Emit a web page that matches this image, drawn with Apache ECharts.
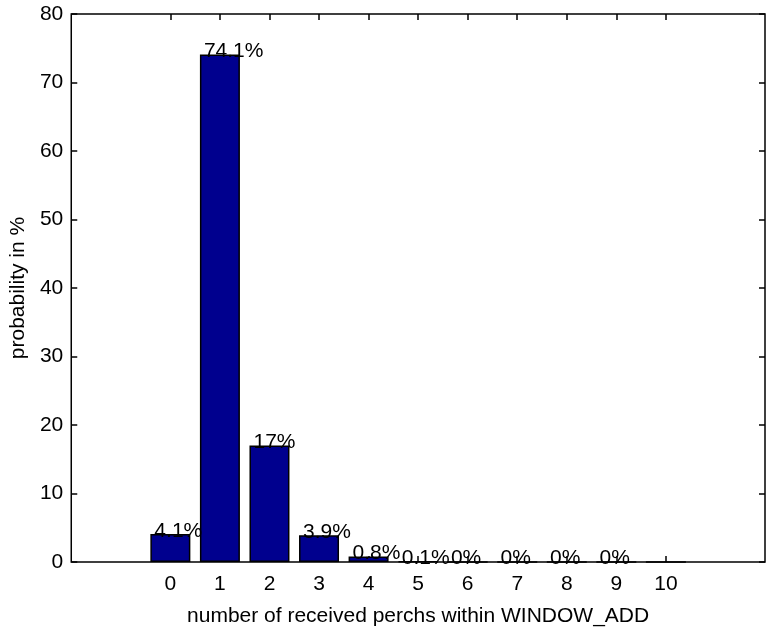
<!DOCTYPE html>
<html>
<head>
<meta charset="utf-8">
<script src="https://cdn.jsdelivr.net/npm/echarts@6/dist/echarts.min.js"></script>
<style>html,body{margin:0;padding:0;background:#fff}#c{width:766px;height:632px}</style>
</head>
<body>
<div id="c"></div>
<script>
const categories = [0, 1, 2, 3, 4, 5, 6, 7, 8, 9, 10];
const values = [4.1, 74.1, 17, 3.9, 0.8, 0.1, 0, 0, 0, 0, 0];
const valueLabels = ['4.1%', '74.1%', '17%', '3.9%', '0.8%', '0.1%', '0%', '0%', '0%', '0%', ''];
const yTicks = [0, 10, 20, 30, 40, 50, 60, 70, 80];

const FONT = 'Liberation Sans, Arial, sans-serif';
const chart = echarts.init(document.getElementById('c'), null, {renderer: 'canvas'});

const xBase = {
  type: 'value', min: -2, max: 12, interval: 1,
  splitLine: {show: false},
  axisLine: {show: false, onZero: false}
};
const yBase = {
  type: 'value', min: 0, max: 80, interval: 10,
  splitLine: {show: false},
  axisLine: {show: false, onZero: false}
};
const tickStyle = {color: '#000', width: 1.5};

chart.setOption({
  animation: false,
  backgroundColor: '#fff',
  grid: {left: 68, top: 14, right: 1, bottom: 67, show: true, borderColor: '#000', borderWidth: 1.5, backgroundColor: 'transparent'},
  xAxis: [
    Object.assign({}, xBase, {
      position: 'bottom',
      name: 'number of received perchs within WINDOW_ADD',
      nameLocation: 'middle', nameGap: 44,
      nameTextStyle: {color: '#000', fontFamily: FONT, fontSize: 21},
      axisTick: {show: true, inside: true, length: 6, lineStyle: tickStyle, customValues: categories},
      axisLabel: {show: true, color: '#000', fontFamily: FONT, fontSize: 21, margin: 12, customValues: categories}
    }),
    Object.assign({}, xBase, {
      position: 'top',
      axisTick: {show: true, inside: true, length: 6, lineStyle: tickStyle, customValues: categories},
      axisLabel: {show: false}
    })
  ],
  yAxis: [
    Object.assign({}, yBase, {
      position: 'left',
      name: 'probability in %',
      nameLocation: 'middle', nameRotate: 90, nameGap: 38,
      nameTextStyle: {color: '#000', fontFamily: FONT, fontSize: 21},
      axisTick: {show: true, inside: true, length: 6, lineStyle: tickStyle, customValues: yTicks},
      axisLabel: {show: true, color: '#000', fontFamily: FONT, fontSize: 21, margin: 8, customValues: yTicks}
    }),
    Object.assign({}, yBase, {
      position: 'right',
      axisTick: {show: true, inside: true, length: 6, lineStyle: tickStyle, customValues: yTicks},
      axisLabel: {show: false}
    })
  ],
  series: [{
    type: 'bar',
    xAxisIndex: 0, yAxisIndex: 0,
    barWidth: 40,
    data: categories.map((c, i) => [c, values[i]]),
    itemStyle: {color: '#00008E', borderColor: '#000', borderWidth: 1.5},
    label: {
      show: true,
      position: [4, -3],
      align: 'left',
      verticalAlign: 'middle',
      color: '#000',
      fontFamily: FONT,
      fontSize: 21,
      formatter: p => valueLabels[p.dataIndex]
    }
  }]
});
</script>
</body>
</html>
